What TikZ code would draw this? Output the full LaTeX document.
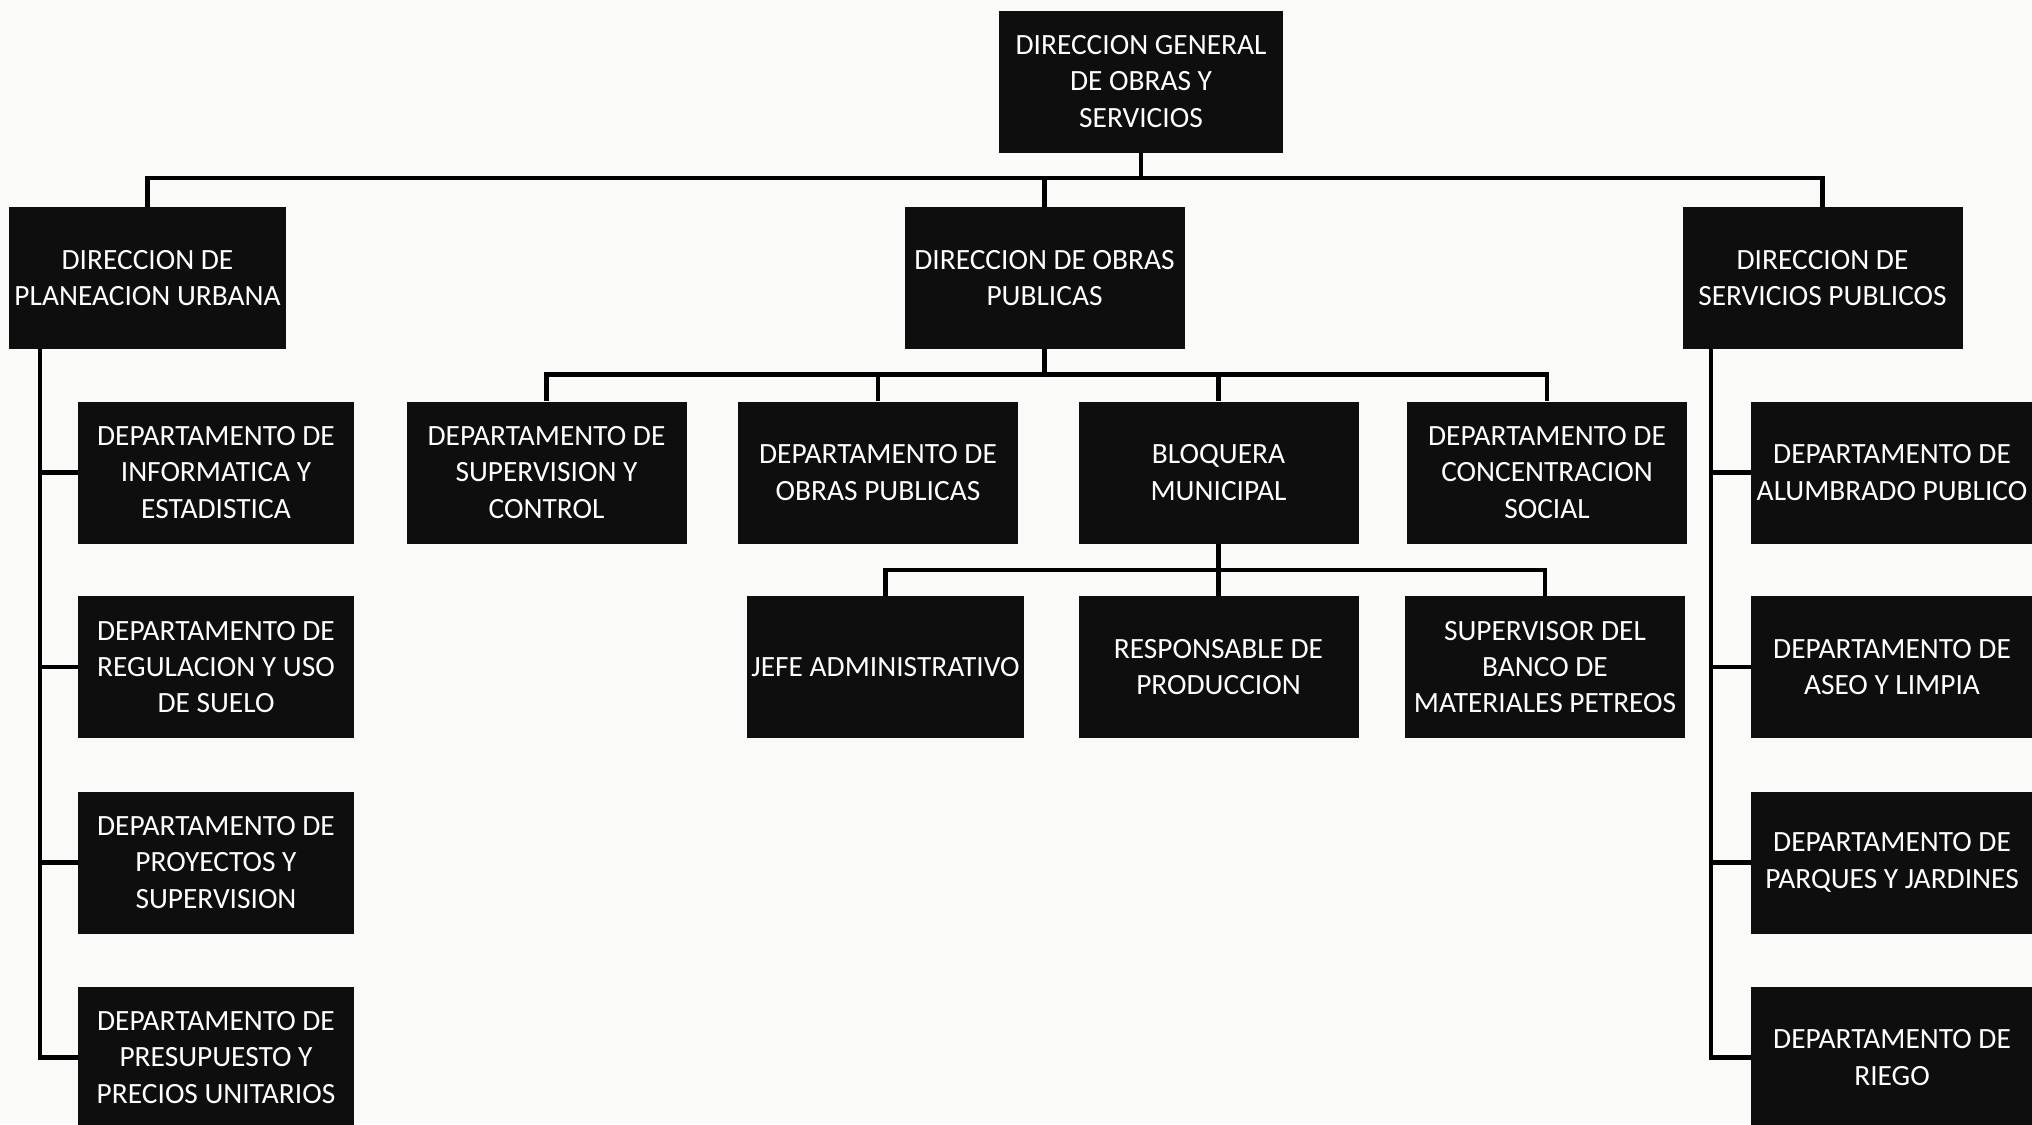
\documentclass[tikz,border=0pt]{standalone}
\usepackage{fontspec}
\setmainfont{Carlito}
\definecolor{boxfill}{RGB}{14,14,14}
\definecolor{paper}{RGB}{250,250,248}
\begin{document}
\begin{tikzpicture}[x=0.5pt,y=-0.5pt,
  orgbox/.style={rectangle, fill=boxfill, text=white, inner sep=0pt,
    minimum width=140pt, minimum height=71pt, align=center,
    font=\fontsize{14.7}{18.2}\selectfont},
  conn/.style={draw=black, line width=2.2pt}]
\fill[paper] (0,0) rectangle (2032,1124);
\useasboundingbox (0,0) rectangle (2032,1124);
% top
\node[orgbox, minimum width=142pt] (top) at (1141,81.5) {DIRECCION GENERAL\\DE OBRAS Y\\SERVICIOS};
% level 1
\node[orgbox, minimum width=138.5pt] (plan) at (147.5,278) {DIRECCION DE\\PLANEACION URBANA};
\node[orgbox] (obr) at (1044.5,278) {DIRECCION DE OBRAS\\PUBLICAS};
\node[orgbox] (serv) at (1822.5,278) {DIRECCION DE\\SERVICIOS PUBLICOS};
% left departments
\node[orgbox, minimum width=138pt] (l1) at (216,472.5) {DEPARTAMENTO DE\\INFORMATICA Y\\ESTADISTICA};
\node[orgbox, minimum width=138pt] (l2) at (216,667) {DEPARTAMENTO DE\\REGULACION Y USO\\DE SUELO};
\node[orgbox, minimum width=138pt] (l3) at (216,862.5) {DEPARTAMENTO DE\\PROYECTOS Y\\SUPERVISION};
\node[orgbox, minimum width=138pt] (l4) at (216,1057.5) {DEPARTAMENTO DE\\PRESUPUESTO Y\\PRECIOS UNITARIOS};
% obras departments
\node[orgbox] (sup) at (546.5,472.5) {DEPARTAMENTO DE\\SUPERVISION Y\\CONTROL};
\node[orgbox] (opub) at (878,472.5) {DEPARTAMENTO DE\\OBRAS PUBLICAS};
\node[orgbox] (bloq) at (1218.5,472.5) {BLOQUERA\\MUNICIPAL};
\node[orgbox] (conc) at (1547,472.5) {DEPARTAMENTO DE\\CONCENTRACION\\SOCIAL};
% bloquera children
\node[orgbox, minimum width=138.5pt] (jefe) at (885.5,667) {JEFE ADMINISTRATIVO};
\node[orgbox] (resp) at (1218.5,667) {RESPONSABLE DE\\PRODUCCION};
\node[orgbox] (supb) at (1545,667) {SUPERVISOR DEL\\BANCO DE\\MATERIALES PETREOS};
% right departments
\node[orgbox, minimum width=141pt] (r1) at (1892,472.5) {DEPARTAMENTO DE\\ALUMBRADO PUBLICO};
\node[orgbox, minimum width=141pt] (r2) at (1892,667) {DEPARTAMENTO DE\\ASEO Y LIMPIA};
\node[orgbox, minimum width=141pt] (r3) at (1892,862.5) {DEPARTAMENTO DE\\PARQUES Y JARDINES};
\node[orgbox, minimum width=141pt] (r4) at (1892,1057.5) {DEPARTAMENTO DE\\RIEGO};
% helper coordinates
\coordinate (bar1) at (0,178);
\coordinate (bar2) at (0,374.5);
\coordinate (bar3) at (0,570);
\coordinate (trunkL) at (40,0);
\coordinate (trunkR) at (1711,0);
% top level connectors
\draw[conn] (plan.north) -- (plan.north |- bar1) -- (serv.north |- bar1) -- (serv.north);
\draw[conn] (top.south) -- (top.south |- bar1);
\draw[conn] (obr.north) -- (obr.north |- bar1);
% left trunk
\draw[conn] (plan.south -| trunkL) |- (l4.west);
\draw[conn] (l1.west) -- (l1.west -| trunkL);
\draw[conn] (l2.west) -- (l2.west -| trunkL);
\draw[conn] (l3.west) -- (l3.west -| trunkL);
% right trunk
\draw[conn] (serv.south -| trunkR) |- (r4.west);
\draw[conn] (r1.west) -- (r1.west -| trunkR);
\draw[conn] (r2.west) -- (r2.west -| trunkR);
\draw[conn] (r3.west) -- (r3.west -| trunkR);
% obras connectors
\draw[conn] (sup.north) -- (sup.north |- bar2) -- (conc.north |- bar2) -- (conc.north);
\draw[conn] (obr.south) -- (obr.south |- bar2);
\draw[conn] (opub.north) -- (opub.north |- bar2);
\draw[conn] (bloq.north) -- (bloq.north |- bar2);
% bloquera connectors
\draw[conn] (jefe.north) -- (jefe.north |- bar3) -- (supb.north |- bar3) -- (supb.north);
\draw[conn] (bloq.south) -- (bloq.south |- bar3);
\draw[conn] (resp.north) -- (resp.north |- bar3);
\end{tikzpicture}
\end{document}
